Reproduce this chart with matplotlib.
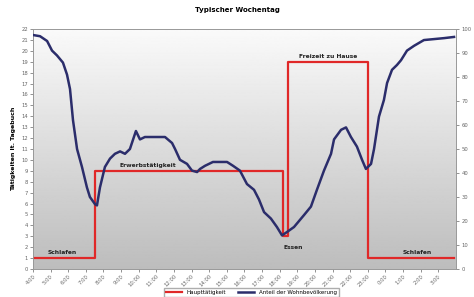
import numpy as np
import matplotlib.pyplot as plt

# Haupttätigkeit laut Tagebuch (Stufenfunktion, linke Achse)
act_hours = [4.0, 7.5, 18.2, 18.45, 23.0, 27.9]
act_values = [1, 9, 3, 19, 1, 1]

# Anteil der Wohnbevölkerung zu Hause in % (rechte Achse)
pop_hours = [4.0, 4.4, 4.8, 5.08, 5.36, 5.7, 5.93, 6.1, 6.27, 6.5, 6.78, 7.06,
             7.23, 7.52, 7.63, 7.8, 8.08, 8.37, 8.65, 8.94, 9.22, 9.5, 9.84,
             10.07, 10.35, 10.92, 11.49, 11.89, 12.06, 12.34, 12.74, 13.02,
             13.31, 13.48, 13.76, 14.21, 14.61, 15.01, 15.35, 15.74, 16.14,
             16.54, 16.82, 17.11, 17.5, 17.84, 18.13, 18.41, 18.81, 19.38,
             19.77, 20.11, 20.51, 20.91, 21.08, 21.48, 21.76, 22.04, 22.38,
             22.67, 22.89, 23.18, 23.35, 23.63, 23.91, 24.09, 24.37, 24.65,
             24.88, 25.22, 25.62, 26.18, 26.75, 27.32, 27.89]
pop_values = [97.5, 97.0, 95.0, 91.0, 89.0, 86.0, 81.0, 75.0, 62.0, 50.0, 42.5,
              34.0, 30.0, 27.0, 26.5, 34.0, 42.5, 46.0, 48.0, 49.0, 48.0, 50.0,
              57.5, 54.0, 55.0, 55.0, 55.0, 52.5, 50.0, 45.5, 43.8, 41.0, 40.4,
              41.7, 43.0, 44.6, 44.6, 44.6, 43.0, 41.0, 35.4, 33.0, 29.0, 23.7,
              21.0, 17.5, 14.0, 15.4, 17.5, 22.5, 26.0, 33.0, 41.0, 48.0, 54.0,
              58.0, 59.0, 55.0, 51.0, 45.5, 41.7, 43.8, 50.0, 63.5, 70.4, 77.5,
              83.0, 85.0, 87.0, 91.0, 93.0, 95.4, 95.8, 96.2, 96.7]

hour_ticks = list(range(4, 28))
hour_labels = [f"{h % 24}:00" for h in hour_ticks]

annotations = [("Schlafen", 5.65, 1.25), ("Erwerbstätigkeit", 10.5, 9.25),
               ("Freizeit zu Hause", 20.75, 19.25), ("Essen", 18.75, 1.7),
               ("Schlafen", 25.8, 1.25)]

fig = plt.figure(figsize=(4.74, 2.97), dpi=100)
fig.patch.set_facecolor("white")
ax = fig.add_axes([0.0696, 0.0943, 0.8924, 0.8080])

# grey gradient background of the plot area
grad = np.linspace(0.98, 0.74, 256).reshape(-1, 1)
ax.imshow(grad, cmap="gray", vmin=0, vmax=1, aspect="auto",
          extent=[0, 1, 0, 1], transform=ax.transAxes, zorder=0)

ax.plot(act_hours, act_values, drawstyle="steps-post", color="#e02828",
        lw=1.6, zorder=3, label="Haupttätigkeit")
ax.set_xlim(4, 28)
ax.set_ylim(0, 22)
ax.set_yticks(range(0, 23))
ax.set_xticks(hour_ticks)
ax.set_xticklabels(hour_labels, rotation=45, ha="right", rotation_mode="anchor")
ax.tick_params(labelsize=3.8, length=2, width=0.5, colors="#666666", pad=1.5)
ax.set_ylabel("Tätigkeiten lt. Tagebuch", fontsize=4.5, fontweight="bold",
              labelpad=4)
for s in ax.spines.values():
    s.set_color("#999999")
    s.set_linewidth(0.6)

for txt, x, y in annotations:
    ax.text(x, y, txt, fontsize=4.3, ha="center", va="bottom",
            color="#222222", fontweight="bold", zorder=5)

ax2 = ax.twinx()
ax2.plot(pop_hours, pop_values, color="#2b2d6b", lw=1.8, zorder=4,
         label="Anteil der Wohnbevölkerung")
ax2.set_ylim(0, 100)
ax2.set_yticks(range(0, 101, 10))
ax2.tick_params(labelsize=3.8, length=2, width=0.5, colors="#666666", pad=2)
for s in ax2.spines.values():
    s.set_color("#999999")
    s.set_linewidth(0.6)

fig.suptitle("Typischer Wochentag", fontsize=5, fontweight="bold", y=0.975)

h1, l1 = ax.get_legend_handles_labels()
h2, l2 = ax2.get_legend_handles_labels()
fig.legend(h1 + h2, l1 + l2, loc="upper center", bbox_to_anchor=(0.53, 0.04),
           ncol=2, fontsize=4, frameon=True, edgecolor="#999999",
           fancybox=False, handlelength=3)

fig.savefig("out.png", dpi=100)
